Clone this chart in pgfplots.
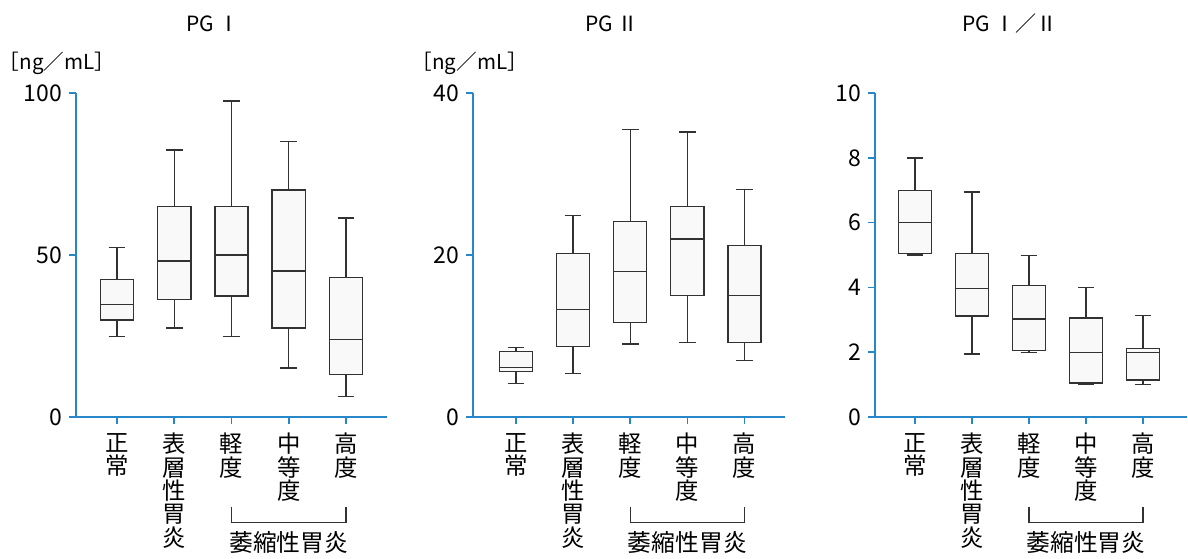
\documentclass[border=0pt]{standalone}
\usepackage{pgfplots}
\pgfplotsset{compat=1.18}
\usepgfplotslibrary{statistics}
\usepackage{fontspec}
\setmainfont{Noto Sans CJK JP}
\definecolor{axblue}{RGB}{40,135,200}
\definecolor{boxline}{RGB}{50,50,50}
\pgfplotsset{
  pgbox/.style={
    scale only axis, height=162pt,
    axis x line*=bottom, axis y line*=left,
    axis line style={axblue, line width=0.8pt},
    tick style={axblue, line width=0.8pt},
    major tick length=3.5pt, tick align=outside,
    clip=false, enlargelimits=false,
    xtick={0,1,2,3,4},
    xticklabels={{正\\常},{表\\層\\性\\胃\\炎},{軽\\度},{中\\等\\度},{高\\度}},
    xticklabel style={align=center, font=\fontsize{11.7}{11.7}\selectfont, anchor=north, yshift=-1pt},
    yticklabel style={font=\fontsize{11.5}{13}\selectfont},
    /pgf/number format/assume math mode=true,
    ymin=0,
  },
  bx/.style={draw=boxline, fill=black!2.5, line width=0.7pt, solid},
}
\newcommand{\bp}[6]{\addplot[bx, boxplot prepared={draw direction=y, draw position=#1, lower whisker=#2, lower quartile=#3, median=#4, upper quartile=#5, upper whisker=#6, box extend=0.58, whisker extend=0.29}] coordinates {};}
\newcommand{\bracketlab}{%
  \draw[boxline, line width=0.6pt] ([yshift=-44.8pt]axis cs:2,0) -- ([yshift=-52.8pt]axis cs:2,0) -- ([yshift=-52.8pt]axis cs:4,0) -- ([yshift=-44.8pt]axis cs:4,0);
  \node[font=\fontsize{11.9}{12}\selectfont, inner sep=0pt] at ([yshift=-62.7pt]axis cs:3,0) {萎縮性胃炎};
}
\begin{document}
\begin{tikzpicture}
\path[use as bounding box] (0,0) rectangle (594pt,279pt);
% Panel 1
\begin{axis}[pgbox, at={(38pt,70.5pt)}, anchor=south west, width=155.5pt,
  xmin=-0.716, xmax=4.716, ymax=100, ytick={0,50,100}]
\bp{0}{24.8}{29.9}{34.8}{42.4}{52.4}
\bp{1}{27.5}{36.2}{48.1}{64.9}{82.4}
\bp{2}{24.9}{37.4}{50.0}{64.9}{97.5}
\bp{3}{15.1}{27.5}{45.1}{70.1}{85.0}
\bp{4}{6.4}{13.2}{24.0}{43.1}{61.4}
\node[font=\fontsize{10.5}{11}\selectfont] at (rel axis cs:0.44,1.213) {PG Ⅰ};
\node[font=\fontsize{10.3}{11}\selectfont] at (rel axis cs:-0.061,1.093) {［ng／mL］};
\bracketlab
\end{axis}
% Panel 2
\begin{axis}[pgbox, at={(236.5pt,70.5pt)}, anchor=south west, width=156pt,
  xmin=-0.753, xmax=4.71, ymax=40, ytick={0,20,40}]
\bp{0}{4.1}{5.6}{6.1}{8.07}{8.6}
\bp{1}{5.4}{8.7}{13.3}{20.2}{24.9}
\bp{2}{9.0}{11.65}{17.95}{24.1}{35.5}
\bp{3}{9.2}{15.0}{22.0}{26.0}{35.2}
\bp{4}{7.0}{9.2}{15.0}{21.2}{28.1}
\node[font=\fontsize{10.5}{11}\selectfont] at (rel axis cs:0.445,1.213) {PG Ⅱ};
\node[font=\fontsize{10.3}{11}\selectfont] at (rel axis cs:-0.01,1.093) {［ng／mL］};
\bracketlab
\end{axis}
% Panel 3
\begin{axis}[pgbox, at={(437.5pt,70.5pt)}, anchor=south west, width=156pt,
  xmin=-0.70, xmax=4.77, ymax=10, ytick={0,2,4,6,8,10}]
\bp{0}{5.0}{5.05}{6.0}{7.0}{8.0}
\bp{1}{1.94}{3.12}{3.97}{5.05}{6.94}
\bp{2}{2.0}{2.05}{3.02}{4.05}{4.99}
\bp{3}{1.0}{1.05}{2.0}{3.06}{4.0}
\bp{4}{1.0}{1.14}{2.0}{2.12}{3.13}
\node[font=\fontsize{10.5}{11}\selectfont] at (rel axis cs:0.433,1.213) {PG Ⅰ／Ⅱ};
\bracketlab
\end{axis}
\end{tikzpicture}
\end{document}
